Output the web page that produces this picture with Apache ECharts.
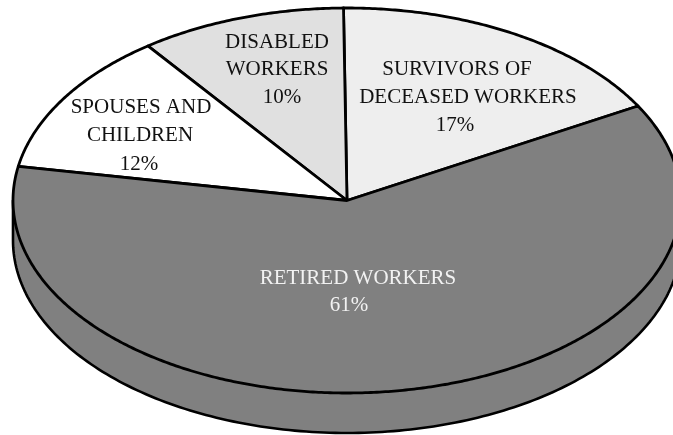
<!DOCTYPE html>
<html>
<head>
<meta charset="utf-8">
<style>html,body{margin:0;padding:0;background:#fff}#c{width:673px;height:435px}</style>
<script src="https://cdn.jsdelivr.net/npm/echarts@6/dist/echarts.min.js"></script>
</head>
<body>
<div id="c"></div>
<script>
// Data, counter-clockwise from the right-hand edge of the survivors slice
const categories = ['SURVIVORS OF\nDECEASED WORKERS', 'DISABLED\nWORKERS', 'SPOUSES AND\nCHILDREN', 'RETIRED WORKERS'];
const shares = [17, 10, 12, 61];

// Styling and layout (kept apart from the data)
const fills = ['#eeeeee', '#e0e0e0', '#ffffff', '#808080'];
const textColors = ['#111111', '#111111', '#111111', '#f2f2f2'];
const geom = { cx: 347, cy: 200.5, rx: 334, ry: 192.5, depth: 40, startDeg: 29.4 };
// label line centres relative to the pie centre, one [dx, dy] per text line
const labelLines = [
  [[110, -131], [121, -103], [108, -75]],
  [[-70, -158], [-70, -131], [-65, -103]],
  [[-206, -93], [-207, -65], [-208, -36]],
  [[11, 78], [2, 105]]
];

const total = shares.reduce((a, b) => a + b, 0);
const rad = d => d * Math.PI / 180;
const pt = (deg, dy) => [
  geom.cx + geom.rx * Math.cos(rad(deg)),
  geom.cy - geom.ry * Math.sin(rad(deg)) + (dy || 0)
];

function renderSide() {
  const pts = [];
  for (let d = 180; d <= 360; d += 1) pts.push(pt(d, geom.depth));
  pts.unshift(pt(180));
  pts.push(pt(360));
  return {
    type: 'polygon',
    shape: { points: pts },
    style: { fill: fills[3], stroke: '#000', lineWidth: 2.6, lineJoin: 'round' }
  };
}

function renderSlice(params, api) {
  const i = params.dataIndex;
  let before = 0;
  for (let k = 0; k < i; k++) before += shares[k];
  const a0 = geom.startDeg + before / total * 360;
  const a1 = a0 + api.value(0) / total * 360;
  const pts = [[geom.cx, geom.cy]];
  const n = Math.ceil(a1 - a0) * 2;
  for (let s = 0; s <= n; s++) pts.push(pt(a0 + (a1 - a0) * s / n));
  return {
    type: 'polygon',
    shape: { points: pts },
    style: { fill: fills[i], stroke: '#000', lineWidth: 2.8, lineJoin: 'round' }
  };
}

function renderLabel(params, api) {
  const i = params.dataIndex;
  const lines = categories[i].split('\n').concat(api.value(0) + '%');
  return {
    type: 'group',
    children: lines.map((t, k) => ({
      type: 'text',
      x: geom.cx + labelLines[i][k][0],
      y: geom.cy + labelLines[i][k][1],
      style: {
        text: t,
        fill: textColors[i],
        font: '21px "Liberation Serif", "Times New Roman", serif',
        align: 'center',
        verticalAlign: 'middle'
      }
    }))
  };
}

const chart = echarts.init(document.getElementById('c'), null, { renderer: 'canvas' });
chart.setOption({
  animation: false,
  backgroundColor: '#ffffff',
  series: [
    { type: 'custom', coordinateSystem: 'none', silent: true, z: 1, data: [[total]], renderItem: renderSide },
    { type: 'custom', coordinateSystem: 'none', silent: true, z: 2, data: shares.map(v => [v]), renderItem: renderSlice },
    { type: 'custom', coordinateSystem: 'none', silent: true, z: 3, data: shares.map(v => [v]), renderItem: renderLabel }
  ]
});
</script>
</body>
</html>
